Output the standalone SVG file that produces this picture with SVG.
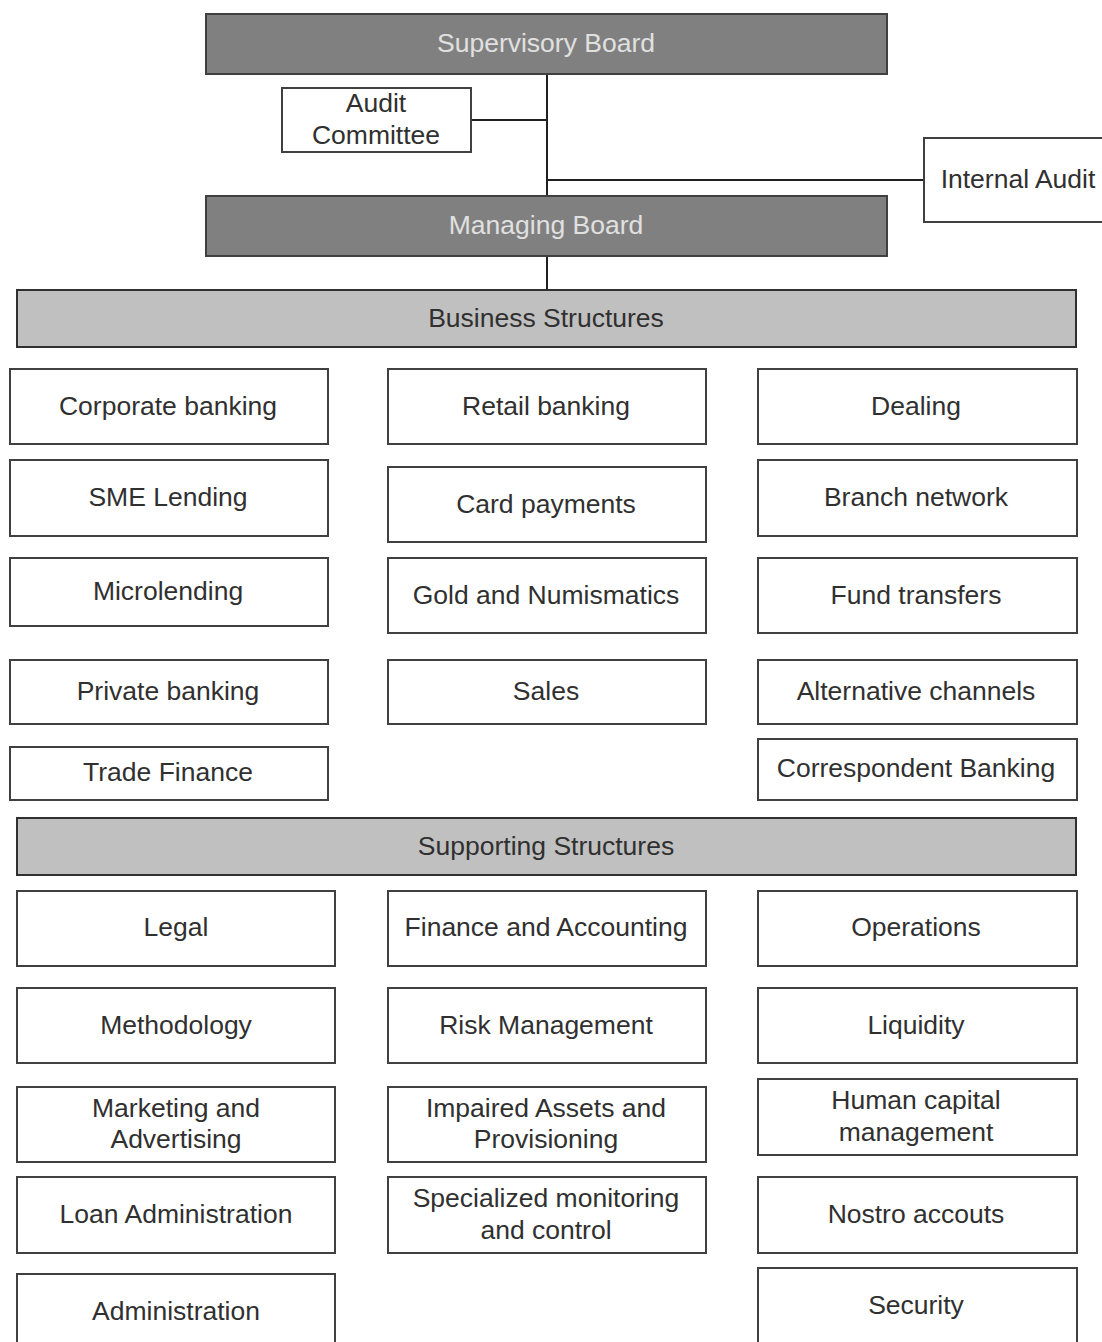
<svg xmlns="http://www.w3.org/2000/svg" width="1102" height="1342" viewBox="0 0 1102 1342">
<style>
.box{fill:#ffffff;stroke:#404040;stroke-width:2}
.dark{fill:#808080;stroke:#404040;stroke-width:2}
.band{fill:#c0c0c0;stroke:#303030;stroke-width:2}
text{font-family:"Liberation Sans",Arial,sans-serif;font-size:26.5px;text-anchor:middle;dominant-baseline:central;fill:#303030}
.lt{fill:#e0e0e0}
.conn{stroke:#202020;stroke-width:2;fill:none}
</style>
<rect width="1102" height="1342" fill="#ffffff"/>
<g id="connectors">
<line class="conn" x1="547" y1="74" x2="547" y2="196"/>
<line class="conn" x1="471" y1="120" x2="547" y2="120"/>
<line class="conn" x1="547" y1="180" x2="924" y2="180"/>
<line class="conn" x1="547" y1="256" x2="547" y2="290"/>
</g>
<g id="supervisory-board"><rect class="dark" x="206" y="14" width="681" height="60"/><text class="lt" x="546" y="43">Supervisory Board</text></g>
<g id="audit-committee"><rect class="box" x="282" y="88" width="189" height="64"/><text x="376" y="103">Audit</text><text x="376" y="135">Committee</text></g>
<g id="internal-audit"><rect class="box" x="924" y="138" width="190" height="84"/><text x="1018" y="179">Internal Audit</text></g>
<g id="managing-board"><rect class="dark" x="206" y="196" width="681" height="60"/><text class="lt" x="546" y="225">Managing Board</text></g>
<g id="business-structures"><rect class="band" x="17" y="290" width="1059" height="57"/><text x="546" y="318">Business Structures</text></g>
<g id="corporate-banking"><rect class="box" x="10" y="369" width="318" height="75"/><text x="168" y="406">Corporate banking</text></g>
<g id="retail-banking"><rect class="box" x="388" y="369" width="318" height="75"/><text x="546" y="406">Retail banking</text></g>
<g id="dealing"><rect class="box" x="758" y="369" width="319" height="75"/><text x="916" y="406">Dealing</text></g>
<g id="sme-lending"><rect class="box" x="10" y="460" width="318" height="76"/><text x="168" y="497">SME Lending</text></g>
<g id="card-payments"><rect class="box" x="388" y="467" width="318" height="75"/><text x="546" y="504">Card payments</text></g>
<g id="branch-network"><rect class="box" x="758" y="460" width="319" height="76"/><text x="916" y="497">Branch network</text></g>
<g id="microlending"><rect class="box" x="10" y="558" width="318" height="68"/><text x="168" y="591">Microlending</text></g>
<g id="gold-numismatics"><rect class="box" x="388" y="558" width="318" height="75"/><text x="546" y="595">Gold and Numismatics</text></g>
<g id="fund-transfers"><rect class="box" x="758" y="558" width="319" height="75"/><text x="916" y="595">Fund transfers</text></g>
<g id="private-banking"><rect class="box" x="10" y="660" width="318" height="64"/><text x="168" y="691">Private banking</text></g>
<g id="sales"><rect class="box" x="388" y="660" width="318" height="64"/><text x="546" y="691">Sales</text></g>
<g id="alternative-channels"><rect class="box" x="758" y="660" width="319" height="64"/><text x="916" y="691">Alternative channels</text></g>
<g id="trade-finance"><rect class="box" x="10" y="747" width="318" height="53"/><text x="168" y="772">Trade Finance</text></g>
<g id="correspondent-banking"><rect class="box" x="758" y="739" width="319" height="61"/><text x="916" y="768">Correspondent Banking</text></g>
<g id="supporting-structures"><rect class="band" x="17" y="818" width="1059" height="57"/><text x="546" y="846">Supporting Structures</text></g>
<g id="legal"><rect class="box" x="17" y="891" width="318" height="75"/><text x="176" y="927">Legal</text></g>
<g id="finance-accounting"><rect class="box" x="388" y="891" width="318" height="75"/><text x="546" y="927">Finance and Accounting</text></g>
<g id="operations"><rect class="box" x="758" y="891" width="319" height="75"/><text x="916" y="927">Operations</text></g>
<g id="methodology"><rect class="box" x="17" y="988" width="318" height="75"/><text x="176" y="1025">Methodology</text></g>
<g id="risk-management"><rect class="box" x="388" y="988" width="318" height="75"/><text x="546" y="1025">Risk Management</text></g>
<g id="liquidity"><rect class="box" x="758" y="988" width="319" height="75"/><text x="916" y="1025">Liquidity</text></g>
<g id="marketing-advertising"><rect class="box" x="17" y="1087" width="318" height="75"/><text x="176" y="1108">Marketing and</text><text x="176" y="1139">Advertising</text></g>
<g id="impaired-assets"><rect class="box" x="388" y="1087" width="318" height="75"/><text x="546" y="1108">Impaired Assets and</text><text x="546" y="1139">Provisioning</text></g>
<g id="human-capital"><rect class="box" x="758" y="1079" width="319" height="76"/><text x="916" y="1100">Human capital</text><text x="916" y="1132">management</text></g>
<g id="loan-administration"><rect class="box" x="17" y="1177" width="318" height="76"/><text x="176" y="1214">Loan Administration</text></g>
<g id="specialized-monitoring"><rect class="box" x="388" y="1177" width="318" height="76"/><text x="546" y="1198">Specialized monitoring</text><text x="546" y="1230">and control</text></g>
<g id="nostro-accounts"><rect class="box" x="758" y="1177" width="319" height="76"/><text x="916" y="1214">Nostro accouts</text></g>
<g id="administration"><rect class="box" x="17" y="1274" width="318" height="80"/><text x="176" y="1311">Administration</text></g>
<g id="security"><rect class="box" x="758" y="1268" width="319" height="86"/><text x="916" y="1305">Security</text></g>
</svg>
